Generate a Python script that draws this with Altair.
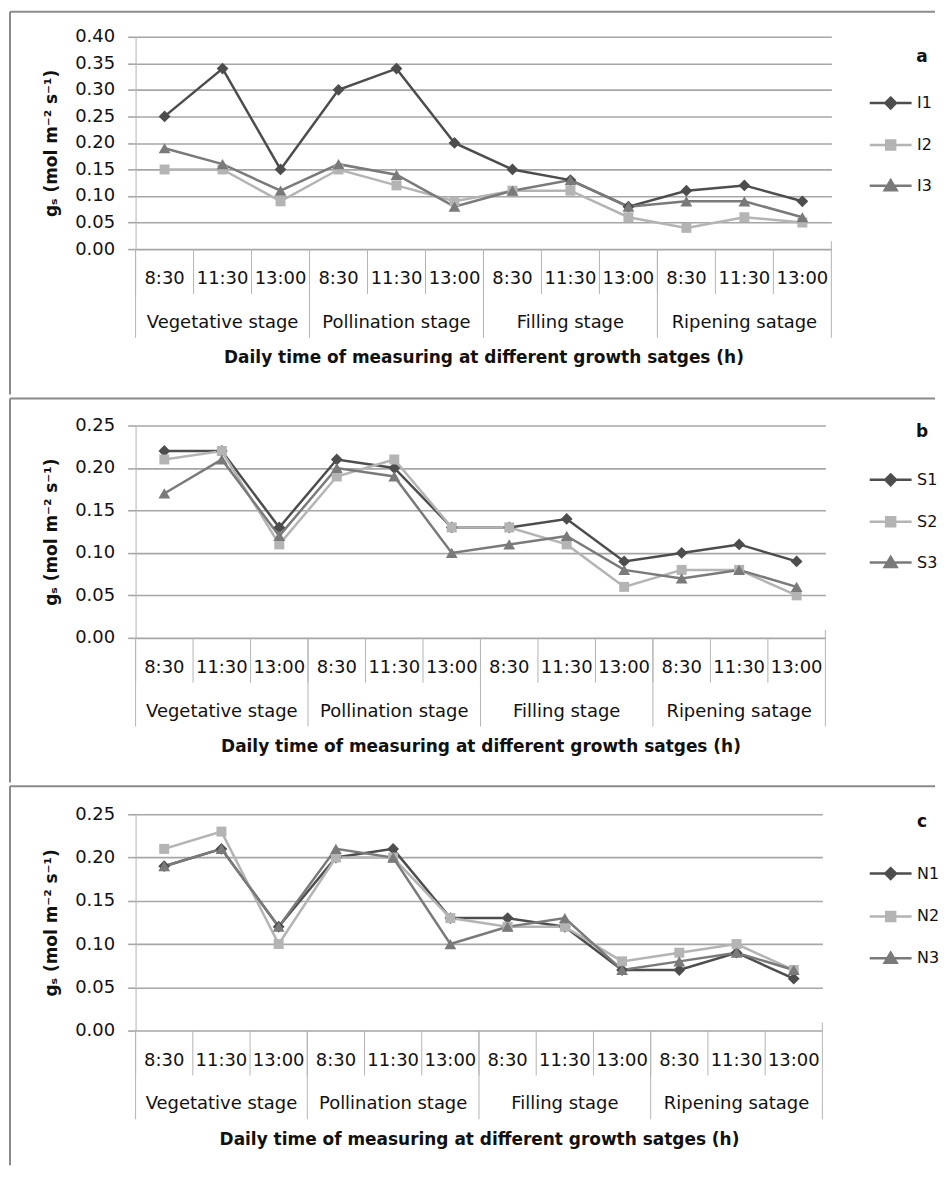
import altair as alt
import pandas as pd

# ---------------- data ----------------
stages = ["Vegetative stage", "Pollination stage", "Filling stage", "Ripening satage"]
times = ["8:30", "11:30", "13:00"]

series_a = ["I1", "I2", "I3"]
I1 = [0.25, 0.34, 0.15, 0.30, 0.34, 0.20, 0.15, 0.13, 0.08, 0.11, 0.12, 0.09]
I2 = [0.15, 0.15, 0.09, 0.15, 0.12, 0.09, 0.11, 0.11, 0.06, 0.04, 0.06, 0.05]
I3 = [0.19, 0.16, 0.11, 0.16, 0.14, 0.08, 0.11, 0.13, 0.08, 0.09, 0.09, 0.06]

series_b = ["S1", "S2", "S3"]
S1 = [0.22, 0.22, 0.13, 0.21, 0.20, 0.13, 0.13, 0.14, 0.09, 0.10, 0.11, 0.09]
S2 = [0.21, 0.22, 0.11, 0.19, 0.21, 0.13, 0.13, 0.11, 0.06, 0.08, 0.08, 0.05]
S3 = [0.17, 0.21, 0.12, 0.20, 0.19, 0.10, 0.11, 0.12, 0.08, 0.07, 0.08, 0.06]

series_c = ["N1", "N2", "N3"]
N1 = [0.19, 0.21, 0.12, 0.20, 0.21, 0.13, 0.13, 0.12, 0.07, 0.07, 0.09, 0.06]
N2 = [0.21, 0.23, 0.10, 0.20, 0.20, 0.13, 0.12, 0.12, 0.08, 0.09, 0.10, 0.07]
N3 = [0.19, 0.21, 0.12, 0.21, 0.20, 0.10, 0.12, 0.13, 0.07, 0.08, 0.09, 0.07]

ticks_a = [0.00, 0.05, 0.10, 0.15, 0.20, 0.25, 0.30, 0.35, 0.40]
ticks_bc = [0.00, 0.05, 0.10, 0.15, 0.20, 0.25]

x_title = "Daily time of measuring at different growth satges (h)"
y_title = "gₛ (mol m⁻² s⁻¹)"

# ---------------- style ----------------
FONT = "DejaVu Sans"
GRID = "#a6a6a6"
AXIS = "#b4b4b4"
FRAME = "#8a8a8a"
TEXT = "#111111"
COLORS = ["#4d4d4d", "#b4b4b4", "#7a7a7a"]
SHAPES = ["diamond", "square", "triangle-up"]
SIZES = [140, 100, 140]
LEGEND_PATHS = [
    "M-1.4,0H1.4M0,-0.36L0.36,0L0,0.36L-0.36,0Z",
    "M-1.4,0H1.4M-0.3,-0.3H0.3V0.3H-0.3Z",
    "M-1.4,0H1.4M0,-0.38L0.4,0.3H-0.4Z",
]
LEFT = -126
RIGHT = 802


def make_panel(names, values, ticks, letter, W, H, T, B, legend_y, letter_y, row_pad):
    keys = [f"{s}|{t}" for s in stages for t in times]
    rows = []
    for name, vals in zip(names, values):
        for k, v in zip(keys, vals):
            rows.append({"key": k, "series": name, "value": v})
    df = pd.DataFrame(rows)
    one = pd.DataFrame({"k": [0]})

    xs = alt.Scale(type="band", domain=keys, paddingInner=0, paddingOuter=0)
    ys = alt.Scale(domain=[0, ticks[-1]], nice=False, zero=True)

    x_axis = alt.Axis(
        title=x_title, titleFont=FONT, titleFontSize=17, titleFontWeight="bold",
        titleColor=TEXT, titleX=W / 2, titleY=109, titleBaseline="middle",
        labelExpr="split(datum.value, '|')[1]", labelAngle=0, labelFont=FONT,
        labelFontSize=18, labelColor=TEXT, labelBaseline="middle", labelPadding=30,
        labelOverlap=False, ticks=False, domain=False, grid=False)
    y_axis = alt.Axis(
        values=ticks, format=".2f", grid=True, gridColor=GRID, gridWidth=1.6,
        tickColor=GRID, tickSize=8, tickWidth=1.6, domainColor=AXIS, domainWidth=1,
        labelFont=FONT, labelFontSize=18, labelColor=TEXT, labelPadding=13,
        title=y_title, titleFont=FONT, titleFontSize=17, titleFontWeight="bold",
        titleColor=TEXT, titleX=-84, titleY=H / 2, titleBaseline="middle")

    def X(band):
        return alt.X("key:N", scale=xs, bandPosition=band, axis=x_axis)

    Y = alt.Y("value:Q", scale=ys, axis=y_axis)

    lines = [
        alt.Chart(df).transform_filter(alt.datum.series == name).mark_line(
            strokeWidth=2.5, color=col).encode(x=X(0.5), y=Y)
        for name, col in zip(names, COLORS)
    ]
    pts = [
        alt.Chart(df).transform_filter(alt.datum.series == name).mark_point(
            filled=True, size=sz, opacity=1, shape=shp, color=col).encode(x=X(0.5), y=Y)
        for name, shp, col, sz in zip(names, SHAPES, COLORS, SIZES)
    ]

    bounds = alt.Chart(one).mark_rect(opacity=0).encode(
        x=alt.value(LEFT - 2), x2=alt.value(RIGHT + 2),
        y=alt.value(T - 2), y2=alt.value(B + 2))
    top_rule = alt.Chart(one).mark_rule(color=FRAME, strokeWidth=2).encode(
        x=alt.value(LEFT), x2=alt.value(RIGHT), y=alt.value(T))
    left_rule = alt.Chart(one).mark_rule(color=FRAME, strokeWidth=2).encode(
        x=alt.value(LEFT), y=alt.value(T), y2=alt.value(B))

    inner = alt.Chart(pd.DataFrame({"key": keys})).mark_rule(
        color=AXIS, strokeWidth=1).encode(
        x=X(0), y=alt.value(H), y2=alt.value(H + 45))
    group_start = alt.Chart(pd.DataFrame({"key": [f"{s}|{times[0]}" for s in stages]})).mark_rule(
        color=AXIS, strokeWidth=1).encode(
        x=X(0), y=alt.value(H), y2=alt.value(H + 89))
    group_end = alt.Chart(pd.DataFrame({"key": [keys[-1]]})).mark_rule(
        color=AXIS, strokeWidth=1).encode(
        x=X(1), y=alt.value(H - 8), y2=alt.value(H + 89))
    stage_txt = alt.Chart(pd.DataFrame({"key": [f"{s}|{times[1]}" for s in stages],
                                        "stage": stages})).mark_text(
        font=FONT, fontSize=18, color=TEXT, baseline="middle", align="center").encode(
        x=X(0.5), y=alt.value(H + 74), text="stage:N")

    leg = alt.Legend(orient="none", legendX=741, legendY=legend_y, title=None,
                     symbolSize=900, symbolStrokeWidth=2.5, labelFont=FONT,
                     labelFontSize=16, labelColor=TEXT, labelOffset=10, rowPadding=row_pad,
                     padding=0, labelLimit=40)
    legend_layer = alt.Chart(df).transform_filter("false").mark_point(
        filled=True, strokeWidth=2.5, opacity=1, size=900).encode(
        fill=alt.Fill("series:N", scale=alt.Scale(domain=names, range=COLORS), legend=leg),
        stroke=alt.Stroke("series:N", scale=alt.Scale(domain=names, range=COLORS), legend=leg),
        shape=alt.Shape("series:N", scale=alt.Scale(domain=names, range=LEGEND_PATHS), legend=leg))

    letter_txt = alt.Chart(one).mark_text(
        font=FONT, fontSize=17, fontWeight="bold", color=TEXT,
        align="center", baseline="middle").encode(
        x=alt.value(789), y=alt.value(letter_y), text=alt.value(letter))

    return alt.layer(*lines, *pts, bounds, top_rule, left_rule, inner, group_start,
                     group_end, stage_txt, legend_layer, letter_txt).properties(
        width=W, height=H)


pa = make_panel(series_a, [I1, I2, I3], ticks_a, "a", 698, 213, -25, 359, 50, 20, 15)
pb = make_panel(series_b, [S1, S2, S3], ticks_bc, "b", 692, 213, -27, 358, 38, 7, 15)
pc = make_panel(series_c, [N1, N2, N3], ticks_bc, "c", 689, 217, -28, 352, 43, 8, 16)

chart = alt.vconcat(pa, pb, pc, spacing=0).resolve_scale(
    x="independent", y="independent", fill="independent",
    stroke="independent", shape="independent").resolve_legend(
    fill="independent", stroke="independent",
    shape="independent").configure_view(stroke=None).properties(
    padding=0, background="white")

chart.save("out.html", embed_options={"renderer": "svg", "actions": False})
